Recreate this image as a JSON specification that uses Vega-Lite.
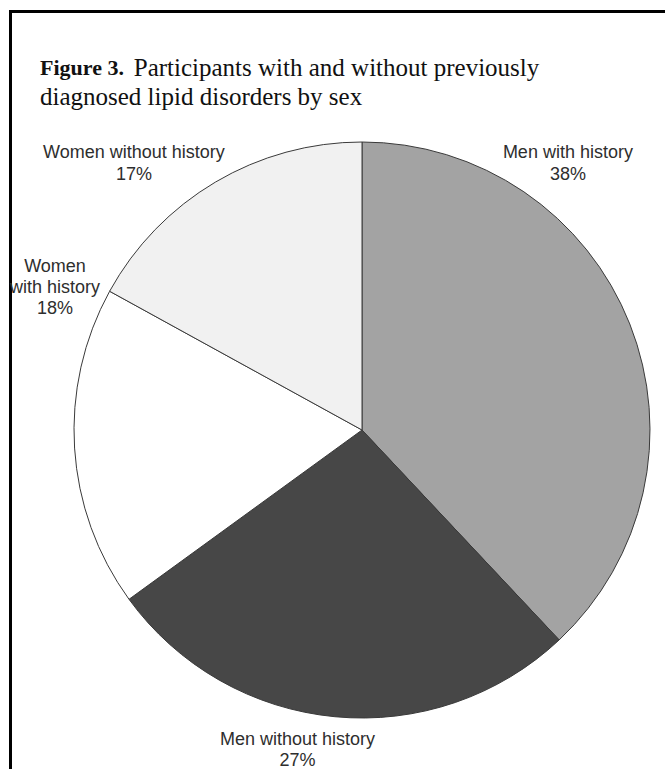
{
  "$schema": "https://vega.github.io/schema/vega-lite/v6.json",
  "autosize": "none",
  "padding": {"left": 10.5, "top": 11.5, "right": 0, "bottom": 0},
  "width": 703,
  "height": 837,
  "background": "white",
  "view": {"stroke": "black", "strokeWidth": 3, "fill": "white"},
  "title": {
    "text": "Figure 3.",
    "subtitle": ["\u200b\u00a0\u00a0\u00a0\u00a0\u00a0\u00a0\u00a0\u00a0\u00a0\u00a0\u00a0\u00a0\u00a0\u00a0\u00a0Participants with and without previously", "diagnosed lipid disorders by sex"],
    "anchor": "start",
    "frame": "group",
    "orient": "top",
    "font": "Liberation Serif",
    "fontSize": 22,
    "fontWeight": "bold",
    "color": "#111111",
    "subtitleFont": "Liberation Serif",
    "subtitleFontSize": 25,
    "subtitleFontWeight": "normal",
    "subtitleColor": "#111111",
    "subtitleLineHeight": 29,
    "subtitlePadding": -24,
    "offset": -100,
    "dx": 29.5
  },
  "data": {
    "values": [
      {"category": "Men with history", "percent": 38, "label": "Men with history\n38%"},
      {"category": "Men without history", "percent": 27, "label": "Men without history\n27%"},
      {"category": "Women with history", "percent": 18, "label": "Women\nwith history\n18%"},
      {"category": "Women without history", "percent": 17, "label": "Women without history\n17%"}
    ]
  },
  "transform": [
    {"stack": "percent", "groupby": [], "sort": [{"field": "category", "order": "ascending"}], "as": ["t0", "t1"]}
  ],
  "layer": [
    {
      "mark": {"type": "arc", "radius": 288, "stroke": "#3a3a3a", "strokeWidth": 1},
      "encoding": {
        "theta": {"field": "t0", "type": "quantitative", "scale": {"domain": [0, 100]}},
        "theta2": {"field": "t1"},
        "color": {
          "field": "category",
          "type": "nominal",
          "scale": {
            "domain": ["Men with history", "Men without history", "Women with history", "Women without history"],
            "range": ["#a3a3a3", "#474747", "#ffffff", "#f1f1f1"]
          },
          "legend": null
        }
      }
    },
    {
      "transform": [{"filter": "datum.category === 'Men with history'"}],
      "mark": {"type": "text", "radius": 345, "thetaOffset": 0.6395, "font": "Liberation Sans", "fontSize": 18, "lineHeight": 22, "lineBreak": "\n", "align": "center", "baseline": "middle", "color": "#2e2e2e"},
      "encoding": {
        "theta": {"field": "t0", "type": "quantitative"},
        "text": {"field": "label", "type": "nominal"}
      }
    },
    {
      "transform": [{"filter": "datum.category === 'Men without history'"}],
      "mark": {"type": "text", "radius": 316.5, "thetaOffset": 0.9594, "font": "Liberation Sans", "fontSize": 18, "lineHeight": 21, "lineBreak": "\n", "align": "center", "baseline": "middle", "color": "#2e2e2e"},
      "encoding": {
        "theta": {"field": "t0", "type": "quantitative"},
        "text": {"field": "label", "type": "nominal"}
      }
    },
    {
      "transform": [{"filter": "datum.category === 'Women with history'"}],
      "mark": {"type": "text", "radius": 347.6, "thetaOffset": 1.1163, "font": "Liberation Sans", "fontSize": 18, "lineHeight": 21, "lineBreak": "\n", "align": "center", "baseline": "middle", "color": "#2e2e2e"},
      "encoding": {
        "theta": {"field": "t0", "type": "quantitative"},
        "text": {"field": "label", "type": "nominal"}
      }
    },
    {
      "transform": [{"filter": "datum.category === 'Women without history'"}],
      "mark": {"type": "text", "radius": 358.8, "thetaOffset": 0.3794, "font": "Liberation Sans", "fontSize": 18, "lineHeight": 22, "lineBreak": "\n", "align": "center", "baseline": "middle", "color": "#2e2e2e"},
      "encoding": {
        "theta": {"field": "t0", "type": "quantitative"},
        "text": {"field": "label", "type": "nominal"}
      }
    }
  ]
}
